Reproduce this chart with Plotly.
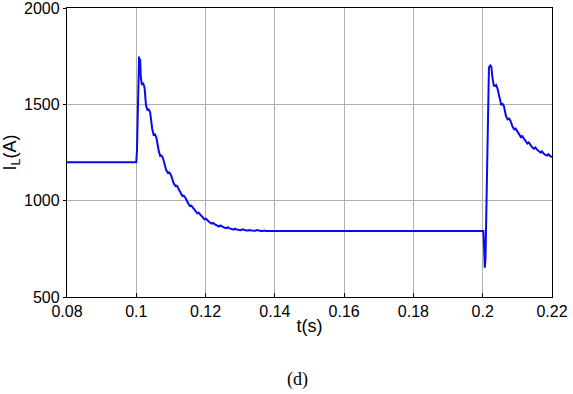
import plotly.graph_objects as go

t_pre = [0.08, 0.1000, 0.1002]
i_pre = [1200, 1200, 1260]

t_tr1 = [0.1006, 0.1008, 0.1010, 0.1011, 0.1013, 0.1016, 0.1020, 0.1024, 0.1028, 0.1032, 0.1036,
         0.1040, 0.1046, 0.1050, 0.1054, 0.1058, 0.1065, 0.1069, 0.1073, 0.1077, 0.1086,
         0.1091, 0.1095, 0.1100, 0.1108, 0.1113, 0.1117, 0.1121, 0.1129, 0.1133, 0.1137,
         0.1142, 0.1150, 0.1155, 0.1159, 0.1164, 0.1171, 0.1176, 0.1180, 0.1185, 0.1192,
         0.1197, 0.1201, 0.1206, 0.1213, 0.1218, 0.1222, 0.1227, 0.1234, 0.1239, 0.1243,
         0.1248, 0.1255, 0.1260, 0.1264, 0.1269, 0.1276, 0.1281, 0.1285, 0.1290, 0.1297,
         0.1302, 0.1306, 0.1311, 0.1318, 0.1323, 0.1327, 0.1332, 0.1339, 0.1344, 0.1348,
         0.1353, 0.1360, 0.1365, 0.1369, 0.1374, 0.1381, 0.1390, 0.1400]
i_tr1 = [1600, 1748, 1690, 1735, 1640, 1605, 1608, 1585, 1495, 1472, 1474,
         1458, 1372, 1342, 1344, 1327, 1257, 1232, 1234, 1221, 1160,
         1145, 1147, 1133, 1090, 1076, 1078, 1066, 1035, 1024, 1026,
         1014, 985, 972, 974, 962, 942, 934, 937, 926, 910,
         903, 906, 897, 886, 881, 884, 877, 870, 866, 871,
         864, 859, 857, 862, 856, 852, 850, 855, 850, 848,
         847, 851, 847, 845, 845, 848, 845, 844, 844, 847,
         844, 843, 843, 845, 843, 843, 844, 843]

t_mid = [0.1500, 0.1700, 0.1900, 0.2002]
i_mid = [843, 843, 843, 843]

t_tr2 = [0.2004, 0.2006, 0.2008, 0.2012, 0.2016, 0.2018, 0.2022, 0.2025, 0.2028, 0.2032,
         0.2036, 0.2039, 0.2043, 0.2049, 0.2053, 0.2057, 0.2061, 0.2067, 0.2072, 0.2076,
         0.2080, 0.2086, 0.2091, 0.2095, 0.2099, 0.2105, 0.2110, 0.2114, 0.2118, 0.2124,
         0.2129, 0.2133, 0.2137, 0.2143, 0.2148, 0.2152, 0.2156, 0.2162, 0.2167, 0.2171,
         0.2175, 0.2181, 0.2186, 0.2190, 0.2194, 0.2200]
i_tr2 = [760, 652, 700, 1200, 1650, 1692, 1702, 1695, 1640, 1598,
         1595, 1600, 1580, 1520, 1500, 1503, 1492, 1440, 1422, 1426,
         1415, 1385, 1370, 1374, 1363, 1342, 1330, 1335, 1324, 1306,
         1296, 1302, 1291, 1277, 1270, 1276, 1266, 1254, 1249, 1256,
         1246, 1238, 1234, 1241, 1232, 1226]

t_all = t_pre + t_tr1 + t_mid + t_tr2
i_all = i_pre + i_tr1 + i_mid + i_tr2

x_ticks = [0.08, 0.1, 0.12, 0.14, 0.16, 0.18, 0.2, 0.22]
x_tick_text = ["0.08", "0.1", "0.12", "0.14", "0.16", "0.18", "0.2", "0.22"]
y_ticks = [500, 1000, 1500, 2000]

fig = go.Figure()
fig.add_trace(go.Scatter(x=t_all, y=i_all, mode="lines",
                         line=dict(color="#0a0af0", width=2), showlegend=False))

axis_common = dict(
    showline=True, linecolor="black", linewidth=1.3, mirror=True,
    tickcolor="black",
    showgrid=True, gridcolor="#b0b0b0", gridwidth=1,
    zeroline=False, automargin=False, ticklabeloverflow="allow",
    tickfont=dict(family="Liberation Sans, Arial", size=16, color="black"),
)

fig.update_xaxes(range=[0.08, 0.22], tickvals=x_ticks, ticktext=x_tick_text,
                 ticks="inside", ticklen=4,
                 title=dict(text="t(s)", font=dict(family="Liberation Sans, Arial", size=18, color="black"),
                            standoff=0),
                 **axis_common)
fig.update_yaxes(range=[500, 2000], tickvals=y_ticks,
                 ticks="outside", ticklen=3,
                 title=dict(text="I<sub>L</sub>(A)", font=dict(family="Liberation Sans, Arial", size=18, color="black"),
                            standoff=4),
                 **axis_common)

fig.add_annotation(text="(d)", xref="paper", yref="paper", x=0.475, y=-0.287,
                   xanchor="center", yanchor="middle", showarrow=False,
                   font=dict(family="Liberation Serif, Times New Roman", size=18, color="black"))

fig.update_layout(width=573, height=394, margin=dict(l=67, r=21, t=8, b=97),
                  plot_bgcolor="white", paper_bgcolor="white")

fig.write_html("out.html")
